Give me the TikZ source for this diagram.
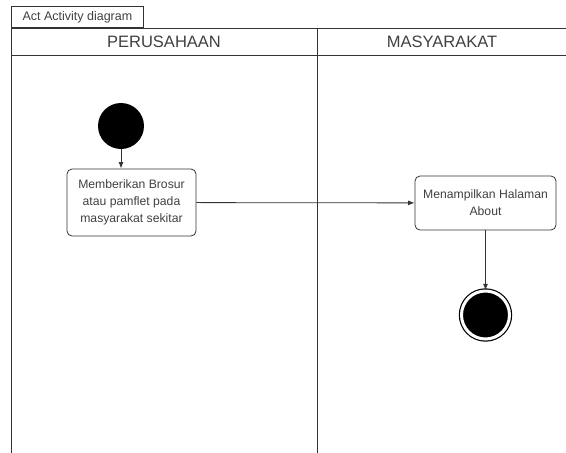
\documentclass[tikz,border=0pt]{standalone}
\usepackage{fontspec}
\setmainfont{Liberation Sans}
\usepackage{tikz}
\usetikzlibrary{arrows.meta}
\tikzset{>=Latex}
\colorlet{linegray}{black!80}
\colorlet{textgray}{black!75}
\tikzset{action/.style = {shape=rectangle,rounded corners=5pt,draw=linegray,thick,align=center,font=\fontsize{12.2}{17}\selectfont,text=textgray,inner sep=0pt}}
\tikzset{initial/.style = {shape=circle,fill=black,minimum size=46pt,inner sep=0pt}}
\tikzset{final/.style = {shape=circle,fill=black,minimum size=48pt,inner sep=0pt,double=white,draw=black,double distance=3pt,line width=1.2pt}}
\tikzset{lane/.style = {font=\fontsize{16.5}{18}\selectfont,text=textgray}}
\tikzset{edge/.style = {->,thick,draw=linegray}}
\begin{document}
\begin{tikzpicture}[x=1pt,y=-1pt]
                \useasboundingbox (0,0) rectangle (566,453);
                % frame and swimlanes
                \node[draw=linegray,thick,anchor=south west,minimum width=132pt,minimum height=21pt,inner sep=0pt,font=\fontsize{12.5}{13}\selectfont,text=textgray] (tab) at (11,28) {Act Activity diagram};
                \draw[linegray,thick] (11,453) -- (11,28) -- (566,28);
                \draw[linegray,thick] (11,55) -- (566,55);
                \draw[linegray,thick] (317,28) -- (317,453);
                \node[lane] (perusahaan) at (164,42) {PERUSAHAAN};
                \node[lane] (masyarakat) at (442,42) {MASYARAKAT};
                % activities
                \node[initial] (start) at (121,126) {};
                \node[action,minimum width=129pt,minimum height=67pt] (brosur) at (131.5,202.5) {Memberikan Brosur\\atau pamflet pada\\masyarakat sekitar};
                \node[action,minimum width=141pt,minimum height=54pt] (about) at (485.5,203) {Menampilkan Halaman\\About};
                \node[final] (end) at (485.5,315) {};
                \draw[edge] (start) -- (start |- brosur.north);
                \draw[edge] (brosur) -- (about);
                \draw[edge] (about) -- (end);
\end{tikzpicture}
\end{document}
